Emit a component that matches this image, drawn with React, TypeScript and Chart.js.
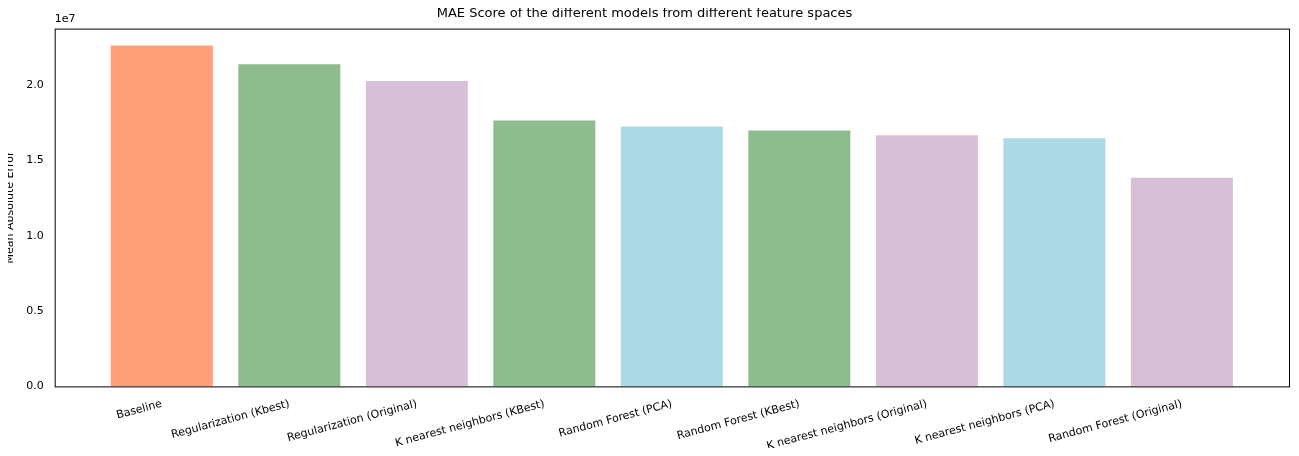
import { useEffect, useRef } from 'react';
import { Chart, registerables } from 'chart.js';

Chart.register(...registerables);

const models = [
  'Baseline',
  'Regularization (Kbest)',
  'Regularization (Original)',
  'K nearest neighbors (KBest)',
  'Random Forest (PCA)',
  'Random Forest (KBest)',
  'K nearest neighbors (Original)',
  'K nearest neighbors (PCA)',
  'Random Forest (Original)',
];
const maeScores = [22620000, 21380000, 20260000, 17640000, 17250000, 16980000, 16660000, 16460000, 13840000];
const barColors = ['#FFA07A', '#8FBC8F', '#D8BFD8', '#8FBC8F', '#ADD8E6', '#8FBC8F', '#D8BFD8', '#ADD8E6', '#D8BFD8'];
const yTicks = [0, 5e6, 1e7, 1.5e7, 2e7];

const frame = {
  id: 'frame',
  afterDraw(chart: Chart) {
    const { ctx, chartArea: a } = chart;
    ctx.save();
    ctx.strokeStyle = '#000';
    ctx.lineWidth = 1;
    ctx.strokeRect(a.left + 0.5, a.top + 0.5, a.right - a.left, a.bottom - a.top);
    ctx.font = '11px "DejaVu Sans"';
    ctx.fillStyle = '#000';
    ctx.textBaseline = 'bottom';
    ctx.fillText('1e7', a.left, a.top - 4);
    ctx.restore();
  },
};

export default function App() {
  const ref = useRef<HTMLCanvasElement | null>(null);

  useEffect(() => {
    if (!ref.current) return;
    Chart.defaults.font.family = '"DejaVu Sans"';
    Chart.defaults.font.size = 11;
    Chart.defaults.color = '#000';
    const chart = new Chart(ref.current, {
      type: 'bar',
      data: {
        datasets: [
          {
            data: maeScores.map((v, i) => ({ x: i, y: v })),
            backgroundColor: barColors,
            barPercentage: 0.8,
            categoryPercentage: 1,
          },
        ],
      },
      options: {
        animation: false,
        responsive: false,
        layout: { padding: { left: 0, right: 10, top: 0, bottom: 0 } },
        plugins: {
          legend: { display: false },
          tooltip: { enabled: false },
          title: { display: true, text: 'MAE Score of the different models from different feature spaces', font: { size: 13, weight: 'normal' }, padding: { top: 6, bottom: 7 } },
        },
        scales: {
          x: {
            type: 'linear',
            min: -0.84,
            max: 8.84,
            offset: false,
            grid: { display: false, drawTicks: true },
            border: { display: false },
            afterBuildTicks: (s: any) => { s.ticks = models.map((_, i) => ({ value: i })); },
            ticks: {
              minRotation: 15,
              maxRotation: 15,
              autoSkip: false,
              callback: (v: any) => models[v as number] ?? '',
            },
          },
          y: {
            min: 0,
            max: 23740000,
            grid: { display: false },
            border: { display: false },
            title: { display: true, text: 'Mean Absolute Error', padding: { bottom: 6 } },
            afterBuildTicks: (s: any) => { s.ticks = yTicks.map((v) => ({ value: v })); },
            ticks: { callback: (v: any) => ((v as number) / 1e7).toFixed(1) },
          },
        },
      },
      plugins: [frame],
    });
    return () => chart.destroy();
  }, []);

  return (
    <div style={{ margin: -8 }}>
      <canvas ref={ref} width={1299} height={456} />
    </div>
  );
}
